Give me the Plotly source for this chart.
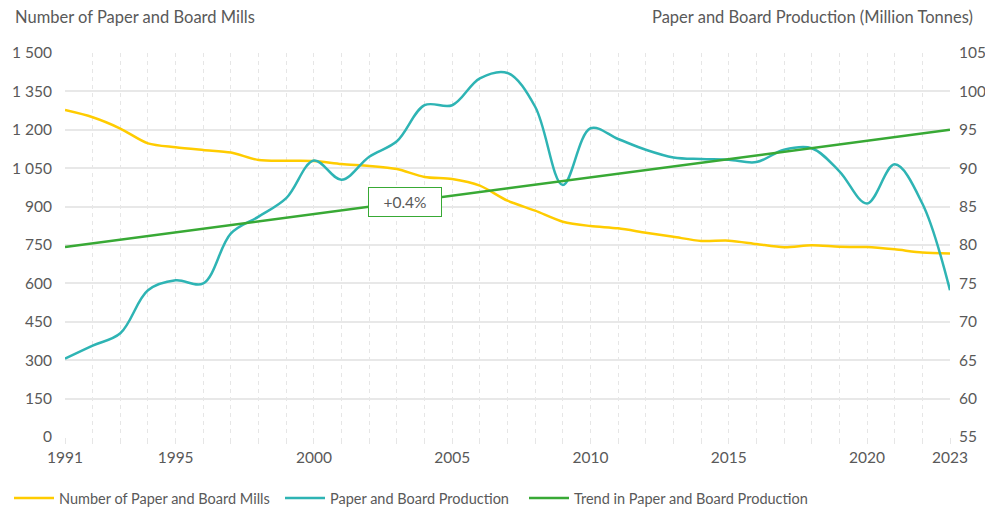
import plotly.graph_objects as go

years = list(range(1991, 2024))
mills = [1277, 1249, 1205, 1147, 1132, 1121, 1111, 1082, 1079, 1078, 1066, 1059,
         1047, 1016, 1008, 982, 923, 884, 841, 824, 815, 798, 782, 766, 767, 754,
         741, 749, 743, 742, 733, 721, 717]
production = [65.2, 66.9, 68.5, 74.1, 75.4, 75.0, 81.5, 83.7, 86.1, 91.0, 88.5, 91.5,
              93.5, 98.2, 98.2, 101.7, 102.4, 98.0, 87.8, 95.2, 93.8, 92.4, 91.4,
              91.2, 91.1, 90.8, 92.4, 92.6, 89.6, 85.4, 90.5, 85.4, 74.1]
trend_years = [1991, 2023]
trend_values = [79.75, 95.0]
trend_label = "+0.4%"
trend_label_year = 2003.3

x_tick_vals = [1991, 1995, 2000, 2005, 2010, 2015, 2020, 2023]
left_ticks = list(range(0, 1501, 150))
right_ticks = list(range(55, 106, 5))

font_family = "Lato, 'Open Sans', sans-serif"
txt = "#595959"
grid = "#e6e6e6"

fig = go.Figure()
fig.add_trace(go.Scatter(x=years, y=mills, name="Number of Paper and Board Mills",
                         mode="lines", line=dict(color="#FFCC00", width=2.5, shape="spline", smoothing=0.8),
                         yaxis="y", legend="legend"))
fig.add_trace(go.Scatter(x=years, y=production, name="Paper and Board Production",
                         mode="lines", line=dict(color="#2EB4B4", width=2.5, shape="spline", smoothing=1),
                         yaxis="y2", legend="legend2"))
fig.add_trace(go.Scatter(x=trend_years, y=trend_values, name="Trend in Paper and Board Production",
                         mode="lines", line=dict(color="#38A935", width=2.5),
                         yaxis="y2", legend="legend3"))

lab_y = trend_values[0] + (trend_label_year - trend_years[0]) / (trend_years[1] - trend_years[0]) * (trend_values[1] - trend_values[0])


def leg(px):
    return dict(orientation="h", x=px / 985, xref="container", y=12 / 510, yref="container",
                xanchor="left", yanchor="middle", font=dict(size=14.5, color=txt),
                itemwidth=40, bgcolor="rgba(0,0,0,0)")


fig.update_layout(
    width=985, height=510,
    margin=dict(l=65, r=35, t=53, b=73, autoexpand=False),
    paper_bgcolor="white", plot_bgcolor="white",
    font=dict(family=font_family, size=15, color=txt),
    separators=". ",
    showlegend=True,
    legend=leg(9), legend2=leg(280), legend3=leg(524),
    xaxis=dict(range=[1991, 2023], tickvals=x_tick_vals, showgrid=True, automargin=False,
               gridcolor=grid, griddash="4px,4px", gridwidth=1,
               minor=dict(dtick=1, tick0=1991, showgrid=True, gridcolor=grid,
                          griddash="4px,4px", ticks="outside", ticklen=6, tickcolor=grid),
               ticks="outside", ticklen=6, tickcolor=grid,
               zeroline=False, showline=False, tickfont=dict(size=15.5, color=txt)),
    yaxis=dict(range=[0, 1500], tickvals=left_ticks, showgrid=True, gridcolor="#e8e8e8",
               gridwidth=1.5, zeroline=False, showline=False, tickformat=",d", automargin=False,
               ticks="", ticklabelstandoff=12, tickfont=dict(size=15.5, color=txt)),
    yaxis2=dict(range=[55, 105], tickvals=right_ticks, overlaying="y", side="right",
                showgrid=False, zeroline=False, showline=False, ticks="", automargin=False,
                ticklabelstandoff=8, tickfont=dict(size=15.5, color=txt)),
    annotations=[
        dict(text="Number of Paper and Board Mills", xref="paper", yref="paper",
             x=-0.0587, y=1.0, yshift=48, xanchor="left", yanchor="top",
             showarrow=False, font=dict(size=16.5, color=txt)),
        dict(text="Paper and Board Production (Million Tonnes)", xref="paper", yref="paper",
             x=1.0, xshift=25, y=1.0, yshift=48, xanchor="right", yanchor="top",
             showarrow=False, font=dict(size=16.5, color=txt)),
        dict(text=trend_label, xref="x", yref="y2", x=trend_label_year, y=lab_y,
             showarrow=False, bgcolor="white", bordercolor="#38A935", borderwidth=1,
             borderpad=5, width=62, font=dict(size=15.5, color=txt)),
    ],
)

fig.write_html("out.html", config={"displayModeBar": False},
               post_script="document.body.style.margin='0';document.body.style.padding='0';")
